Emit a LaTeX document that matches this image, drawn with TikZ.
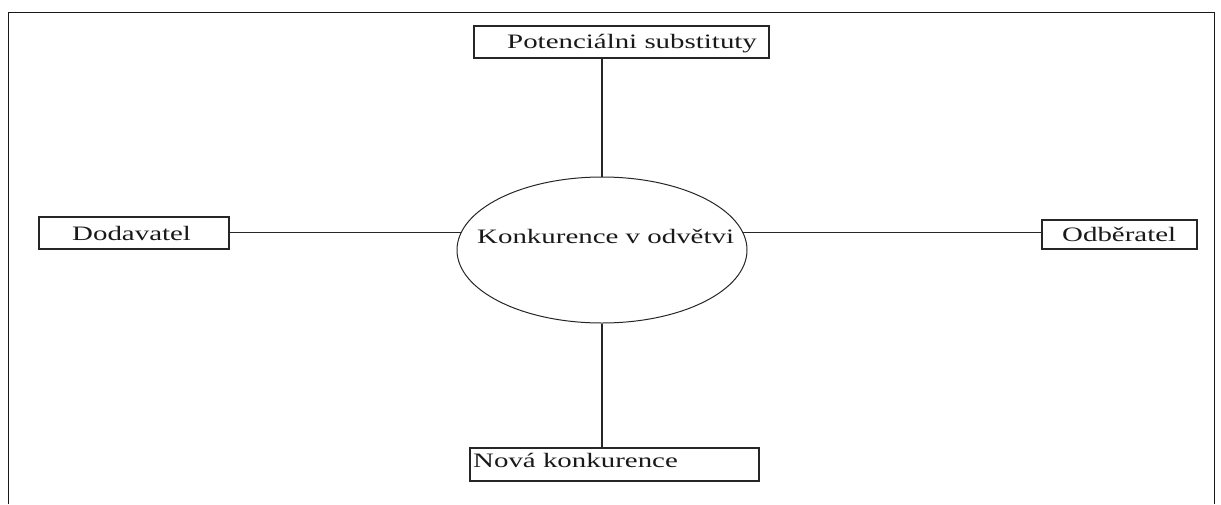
\documentclass[tikz,border=0pt]{standalone}
\usepackage{fontspec}
\setmainfont{Liberation Serif}
\usepackage{graphicx}
\usetikzlibrary{shapes.geometric}
\newcommand{\widetxt}[1]{\scalebox{1.41}[1]{#1}}
\begin{document}
\begin{tikzpicture}[x=1pt,y=-1pt,
  box/.style={draw=black!85, line width=1.4pt, inner sep=0pt},
  lbl/.style={anchor=base west, inner sep=0pt, font=\fontsize{20.5}{24}\selectfont, text=black!90},
  conn/.style={draw=black!85, line width=1.3pt},
  frame/.style={draw=black!90, line width=1.8pt}]
\useasboundingbox (0,0) rectangle (1221,504);
\draw[frame] (8.5,504) -- (8.5,12.5) -- (1214.5,12.5) -- (1214.5,504);
% boxes
\node[box, minimum width=295pt, minimum height=32pt] (pot) at (621.5,42) {};
\node[box, minimum width=190pt, minimum height=32pt] (dod) at (134,233) {};
\node[box, minimum width=155pt, minimum height=29pt] (odb) at (1119.5,234.5) {};
\node[box, minimum width=289pt, minimum height=33pt] (nova) at (614.5,464.5) {};
% central ellipse
\node[ellipse, draw=black!85, line width=1pt, minimum width=290pt, minimum height=146pt, inner sep=0pt] (k) at (602,250) {};
% texts
\node[lbl] (tpot) at (507,48) {\widetxt{Potenciálni substituty}};
\node[lbl] (tdod) at (72,240) {\widetxt{Dodavatel}};
\node[lbl] (todb) at (1062,241) {\widetxt{Odběratel}};
\node[lbl] (tnova) at (473,467) {\widetxt{Nová konkurence}};
\node[lbl] (tk) at (477,243) {\widetxt{Konkurence v odvětvi}};
% connectors
\draw[conn] (k.north) -- (k.north |- pot.south);
\draw[conn] (k.south) -- (k.south |- nova.north);
\draw[conn] (k.173) -- (k.173 -| dod.east);
\draw[conn] (k.7) -- (k.7 -| odb.west);
\end{tikzpicture}
\end{document}
